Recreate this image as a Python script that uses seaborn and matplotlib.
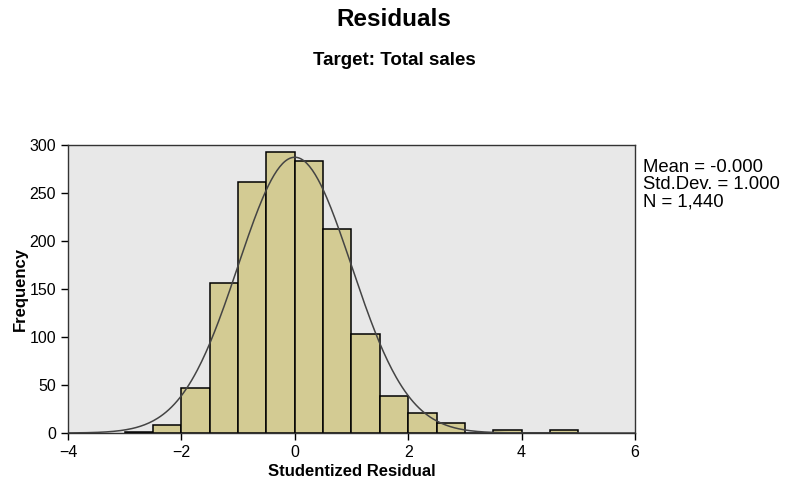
import numpy as np
import pandas as pd
import seaborn as sns
import matplotlib.pyplot as plt

# histogram bins (lower edges) and counts
bin_left = [-3.0, -2.5, -2.0, -1.5, -1.0, -0.5, 0.0, 0.5, 1.0, 1.5, 2.0, 2.5, 3.0, 3.5, 4.0, 4.5]
counts = [1, 8, 47, 156, 261, 293, 283, 212, 103, 39, 21, 10, 0, 3, 0, 3]
n_total = 1440
mean, sd = 0.0, 1.0
bin_width = 0.5

sns.set_style("ticks")
plt.rcParams['font.family'] = ['Liberation Sans', 'DejaVu Sans']
plt.rcParams['text.color'] = 'black'
plt.rcParams['axes.labelcolor'] = 'black'

df = pd.DataFrame({"x": np.array(bin_left) + bin_width / 2, "count": counts})

fig = plt.figure(figsize=(7.88, 4.83), dpi=100)
ax = fig.add_axes([0.0863, 0.1035, 0.7195, 0.5963])
ax.set_facecolor("#e8e8e8")

sns.histplot(data=df, x="x", weights="count", binwidth=bin_width, binrange=(-3.0, 5.0), ax=ax,
             color="#d3cb93", edgecolor="black", linewidth=1.1, alpha=1)

# normal curve
xs = np.linspace(-4, 6, 400)
curve = pd.DataFrame({"x": xs,
                      "y": n_total * bin_width * np.exp(-0.5 * ((xs - mean) / sd) ** 2) / (sd * np.sqrt(2 * np.pi))})
sns.lineplot(data=curve, x="x", y="y", ax=ax, color="#444444", linewidth=1.1)

ax.set_xlim(-4, 6)
ax.set_ylim(0, 300)
ax.set_xticks([-4, -2, 0, 2, 4, 6])
ax.set_yticks([0, 50, 100, 150, 200, 250, 300])
ax.tick_params(labelsize=11.5, length=5, width=1, colors="black")
for s in ax.spines.values():
    s.set_color("#333333")
    s.set_linewidth(1)

ax.set_xlabel("Studentized Residual", fontsize=12, fontweight="bold", labelpad=3)
ax.set_ylabel("Frequency", fontsize=12, fontweight="bold", labelpad=1)

fig.text(0.5, 0.96, "Residuals", ha="center", va="center", fontsize=17.5, fontweight="bold")
fig.text(0.5, 0.874, "Target: Total sales", ha="center", va="center", fontsize=13.5, fontweight="bold")

fig.text(0.816, 0.617, "Mean = -0.000\nStd.Dev. = 1.000\nN = 1,440",
         ha="left", va="center", fontsize=13.3, linespacing=1.02)

fig.savefig("out.png", dpi=100)
